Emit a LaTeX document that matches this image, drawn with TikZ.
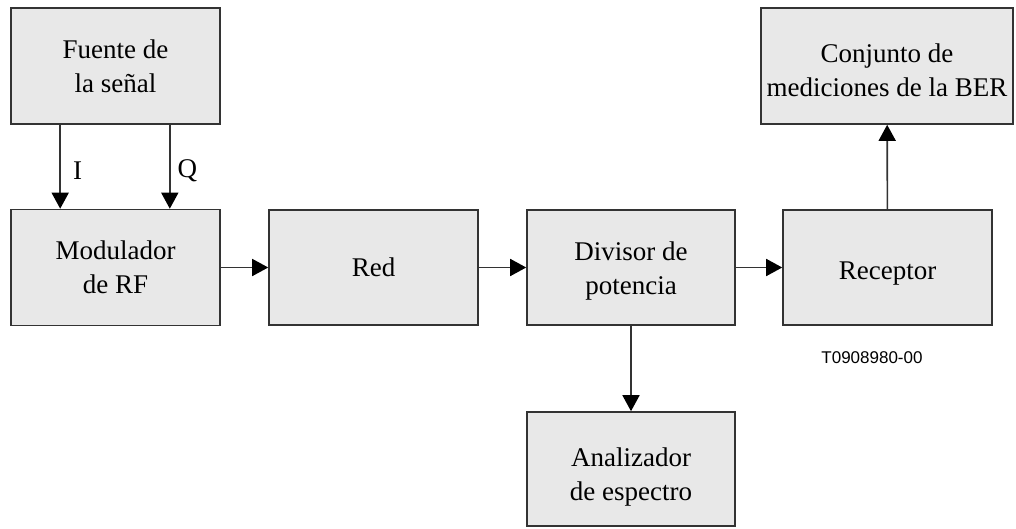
\documentclass[tikz,border=0pt]{standalone}
\usepackage{fontspec}
\setmainfont{Liberation Serif}
\newfontfamily\labelfont{Liberation Sans}
\usetikzlibrary{arrows.meta}
\definecolor{boxfill}{HTML}{E8E8E8}
\definecolor{linecol}{HTML}{333333}
\newcommand{\lowerby}[1]{\rule{0pt}{\dimexpr 18.5pt+2\dimexpr #1\relax\relax}}
\tikzset{
  blk/.style={draw=linecol, line width=1.6pt, fill=boxfill, inner sep=0pt,
    align=center, font=\fontsize{27}{34}\selectfont, text=black},
  arr/.style={draw=linecol, line width=1.6pt, -{Triangle[length=16pt,width=17pt,color=black]}},
  lbl/.style={font=\fontsize{27}{30}\selectfont, inner sep=0pt}
}
\begin{document}
\begin{tikzpicture}[x=1pt,y=-1pt]
\useasboundingbox (0,0) rectangle (1016,529);
\node[blk, minimum width=209pt, minimum height=116pt] (src) at (115.5,66) {Fuente de\\la señal};
\node[blk, minimum width=209pt, minimum height=116pt] (mod) at (115.5,267.5) {Modulador\\de RF};
\node[blk, minimum width=209pt, minimum height=115pt] (red) at (373.5,267.5) {Red};
\node[blk, minimum width=208pt, minimum height=115pt] (div) at (631,267.5) {\lowerby{3.5pt}Divisor de\\potencia};
\node[blk, minimum width=209pt, minimum height=115pt] (rec) at (887.5,267.5) {\lowerby{6pt}Receptor};
\node[blk, minimum width=252pt, minimum height=116pt] (ber) at (887,66) {\lowerby{4pt}Conjunto de\\mediciones de la BER};
\node[blk, minimum width=208pt, minimum height=114pt] (ana) at (631,469) {\lowerby{8pt}Analizador\\de espectro};
\draw[arr] ([xshift=50pt]src.south west) -- ([xshift=50pt]mod.north west)
  node[lbl, pos=0.55, right=12pt] (ilbl) {I};
\draw[arr] ([xshift=-51pt]src.south east) -- ([xshift=-51pt]mod.north east)
  node[lbl, pos=0.55, right=7pt] (qlbl) {Q};
\draw[arr] (mod) -- (red);
\draw[arr] (red) -- (div);
\draw[arr] (div) -- (rec);
\draw[arr] (div) -- (ana);
\draw[arr] (rec) -- (ber);
\node[font=\labelfont\fontsize{17}{18}\selectfont, inner sep=0pt] (code) at (872,358) {T0908980-00};
\end{tikzpicture}
\end{document}
